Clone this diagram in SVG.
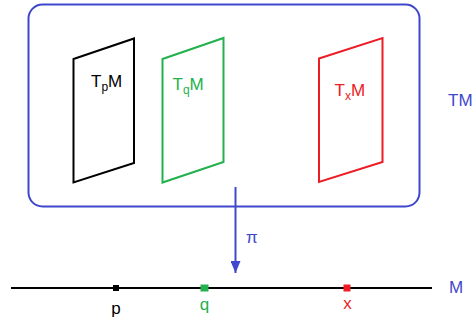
<svg xmlns="http://www.w3.org/2000/svg" width="473" height="322" viewBox="0 0 473 322">
<style>
text{font-family:"Liberation Sans",Arial,sans-serif;font-size:17px}
.sub{font-size:12px}
.pl{fill:none;stroke-width:2;stroke-linejoin:miter}
</style>
<defs>
<marker id="ah" markerWidth="12" markerHeight="10" refX="12" refY="5" orient="auto" markerUnits="userSpaceOnUse" viewBox="0 0 12 10">
<path d="M0,0 L12,5 L0,10 Z" fill="#3F48CC"/>
</marker>
</defs>
<rect width="473" height="322" fill="#fff"/>
<g id="TM">
<rect x="28.5" y="4.5" width="391" height="202" rx="14" fill="none" stroke="#3F48CC" stroke-width="2"/>
<text x="448" y="106" fill="#3F48CC">TM</text>
</g>
<g id="TpM">
<polygon class="pl" stroke="#000" points="73.5,59 134,38.5 134,163 73.5,182.5"/>
<text x="91" y="87" fill="#000">T<tspan class="sub" dy="4">p</tspan><tspan dy="-4">M</tspan></text>
</g>
<g id="TqM">
<polygon class="pl" stroke="#22B14C" points="162.5,59 223.5,38 223.5,162 162.5,182.5"/>
<text x="172.5" y="89.5" fill="#22B14C">T<tspan class="sub" dy="4">q</tspan><tspan dy="-4">M</tspan></text>
</g>
<g id="TxM">
<polygon class="pl" stroke="#ED1C24" points="319,58.5 382.5,38 382.5,162 319,182"/>
<text x="334.5" y="95.5" fill="#ED1C24">T<tspan class="sub" dy="4">x</tspan><tspan dy="-4">M</tspan></text>
</g>
<g id="M">
<line x1="11" y1="288" x2="432" y2="288" stroke="#000" stroke-width="2"/>
<text x="449" y="293" fill="#3F48CC">M</text>
</g>
<g id="p">
<rect x="113" y="285" width="6" height="6" fill="#000"/>
<text x="116" y="314" fill="#000" text-anchor="middle">p</text>
</g>
<g id="q">
<rect x="200.5" y="284.5" width="8" height="7" fill="#22B14C"/>
<text x="204.5" y="310" fill="#22B14C" text-anchor="middle">q</text>
</g>
<g id="x">
<rect x="343.5" y="284.5" width="7" height="7" fill="#ED1C24"/>
<text x="347.5" y="309" fill="#ED1C24" text-anchor="middle">x</text>
</g>
<g id="connectors">
<line x1="235.5" y1="187" x2="235.5" y2="273" stroke="#3F48CC" stroke-width="2" marker-end="url(#ah)"/>
<text x="246" y="243" fill="#3F48CC">π</text>
</g>
</svg>
